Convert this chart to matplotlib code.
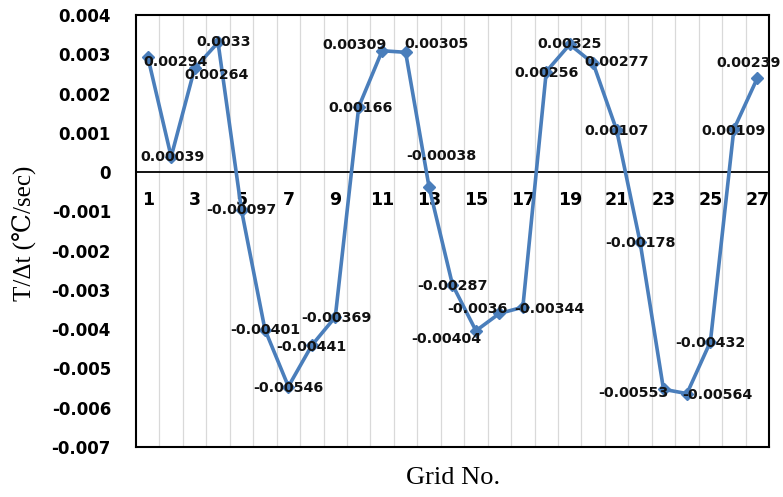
import matplotlib
matplotlib.use("Agg")
import matplotlib.pyplot as plt
import numpy as np

grid_no = list(range(1, 28))
rate = [0.00294, 0.00039, 0.00264, 0.0033, -0.00097, -0.00401, -0.00546,
        -0.00441, -0.00369, 0.00166, 0.00309, 0.00305, -0.00038, -0.00287,
        -0.00404, -0.0036, -0.00344, 0.00256, 0.00325, 0.00277, 0.00107,
        -0.00178, -0.00553, -0.00564, -0.00432, 0.00109, 0.00239]
labels = ["0.00294", "0.00039", "0.00264", "0.0033", "-0.00097", "-0.00401",
          "-0.00546", "-0.00441", "-0.00369", "0.00166", "0.00309", "0.00305",
          "-0.00038", "-0.00287", "-0.00404", "-0.0036", "-0.00344", "0.00256",
          "0.00325", "0.00277", "0.00107", "-0.00178", "-0.00553", "-0.00564",
          "-0.00432", "0.00109", "0.00239"]
y_ticks = [0.004, 0.003, 0.002, 0.001, 0, -0.001, -0.002, -0.003, -0.004,
           -0.005, -0.006, -0.007]
y_tick_labels = ["0.004", "0.003", "0.002", "0.001", "0", "-0.001", "-0.002",
                 "-0.003", "-0.004", "-0.005", "-0.006", "-0.007"]

# label offsets in points (dx, dy), like Excel's hand-placed data labels
offsets = [(20, -4), (1, 0), (16, -5), (4, 0), (0, 0), (0, 0), (0, -1),
           (0, -1), (1, -1), (1, -1), (-20, 4), (22, 6), (9, 22), (0, -1),
           (-21, -6), (-16, 3), (19, -1), (0, -1), (0, 0), (17, 1), (0, -1),
           (0, -1), (-22, -3), (22, -1), (0, -1), (0, -1), (-6, 11)]

blue = "#4a7ebb"

fig = plt.figure(figsize=(7.83, 4.97), dpi=100)
ax = fig.add_axes([136 / 783, 1 - 447 / 497, (769 - 136) / 783, (447 - 15) / 497])

ax.plot(grid_no, rate, color=blue, lw=2.6, marker="D", ms=6.5, zorder=3)

for x, y, s, (dx, dy) in zip(grid_no, rate, labels, offsets):
    ax.annotate(s, (x, y), xytext=(dx, dy), textcoords="offset points",
                ha="center", va="center", fontsize=10.3, fontweight="bold",
                color="#111111", zorder=4)

ax.set_xlim(0.5, 27.5)
ax.set_ylim(-0.007, 0.004)
ax.set_yticks(y_ticks)
ax.set_yticklabels(y_tick_labels, fontsize=12, fontweight="bold")
ax.tick_params(axis="y", length=0, pad=18)

# vertical gridlines at category boundaries
for b in np.arange(1.5, 27.5, 1):
    ax.axvline(b, color="#d9d9d9", lw=0.9, zorder=0)
ax.axhline(0, color="black", lw=1.3, zorder=2)

# x tick labels sit just under the zero line
ax.set_xticks([])
for g in grid_no[::2]:
    ax.text(g, -0.0007, str(g), ha="center", va="center", fontsize=12.5,
            fontweight="bold", zorder=1)

for sp in ax.spines.values():
    sp.set_color("black")
    sp.set_linewidth(1.5)

fig.text(25 / 783, 1 - 233 / 497, "T/\u0394t (\u2103/sec)", rotation=90,
         ha="center", va="center", fontsize=18,
         family=["Liberation Serif", "DejaVu Serif"])
fig.text(453 / 783, 1 - 478 / 497, "Grid No.", ha="center", va="center",
         fontsize=19, family=["Liberation Serif", "DejaVu Serif"])

fig.savefig("out.png", dpi=100)
